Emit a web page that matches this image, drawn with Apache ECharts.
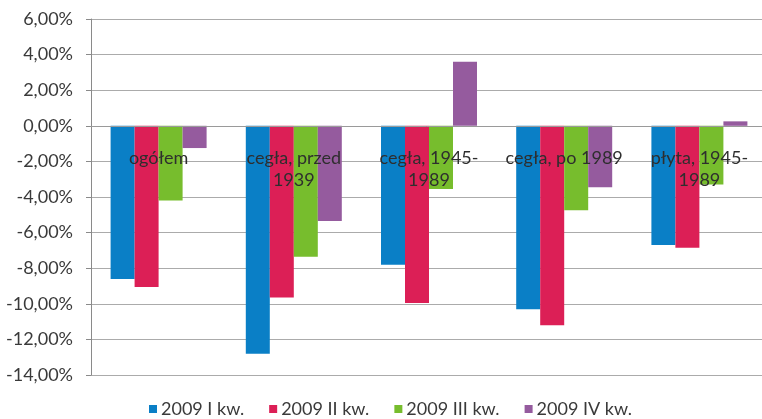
<!DOCTYPE html>
<html>
<head>
<meta charset="utf-8">
<script src="https://cdn.jsdelivr.net/npm/echarts@6/dist/echarts.min.js"></script>
<style>
  html, body { margin: 0; padding: 0; background: #ffffff; }
  #chart { width: 762px; height: 419px; }
</style>
</head>
<body>
<div id="chart"></div>
<script>
// Quarterly price changes (%) by building type, 2009
const categories = ['ogółem', 'cegła, przed\n1939', 'cegła, 1945-\n1989', 'cegła, po 1989', 'płyta, 1945-\n1989'];
const seriesNames = ['2009 I kw.', '2009 II kw.', '2009 III kw.', '2009 IV kw.'];
const q1 = [-8.6, -12.8, -7.8, -10.3, -6.7];
const q2 = [-9.05, -9.65, -9.95, -11.2, -6.85];
const q3 = [-4.2, -7.35, -3.55, -4.75, -3.3];
const q4 = [-1.25, -5.35, 3.6, -3.45, 0.25];
const colors = ['#0a7fc6', '#dc1f56', '#77bd2d', '#955b9e'];

const yMin = -14, yMax = 6, yStep = 2;

const fontFamily = 'Lato, "Open Sans", "Liberation Sans", sans-serif';
const textColor = '#3a3a3a';

const gridTop = 19, gridHeight = 356;
// Category axis sits on the zero line: shift it up from the grid bottom
const zeroOffset = -gridHeight * (0 - yMin) / (yMax - yMin);

const chart = echarts.init(document.getElementById('chart'), null, { renderer: 'canvas' });

const seriesData = [q1, q2, q3, q4];

chart.setOption({
  backgroundColor: '#ffffff',
  animation: false,
  color: colors,
  grid: { left: 91, top: gridTop, width: 676, height: gridHeight, containLabel: false, outerBoundsMode: 'none' },
  legend: {
    data: seriesNames,
    top: 400,
    left: 149,
    padding: 0,
    itemWidth: 8,
    itemHeight: 8,
    itemGap: 25,
    icon: 'rect',
    textStyle: { fontFamily, fontSize: 18, color: textColor, padding: [0, 0, 0, -1] }
  },
  xAxis: {
    type: 'category',
    data: categories,
    z: 5,
    offset: zeroOffset,
    axisLine: { onZero: false, lineStyle: { color: '#9a9a9a', width: 1 } },
    axisTick: { show: false },
    axisLabel: {
      margin: 21,
      interval: 0,
      fontFamily,
      fontSize: 18,
      lineHeight: 22,
      color: '#2e2e2e'
    },
    splitLine: { show: false }
  },
  yAxis: {
    type: 'value',
    min: yMin,
    max: yMax,
    interval: yStep,
    axisLine: { show: true, lineStyle: { color: '#8a8a8a', width: 1 } },
    axisTick: { show: true, length: 5, lineStyle: { color: '#8a8a8a' } },
    axisLabel: {
      margin: 18,
      fontFamily,
      fontSize: 18,
      color: textColor,
      formatter: v => v.toFixed(2).replace('.', ',') + '%'
    },
    splitLine: { show: true, lineStyle: { color: '#ababab', width: 1 } }
  },
  series: seriesData.map((d, i) => ({
    name: seriesNames[i],
    type: 'bar',
    data: d,
    barWidth: 24,
    barGap: '0%',
    itemStyle: { color: colors[i] }
  }))
});
</script>
</body>
</html>
